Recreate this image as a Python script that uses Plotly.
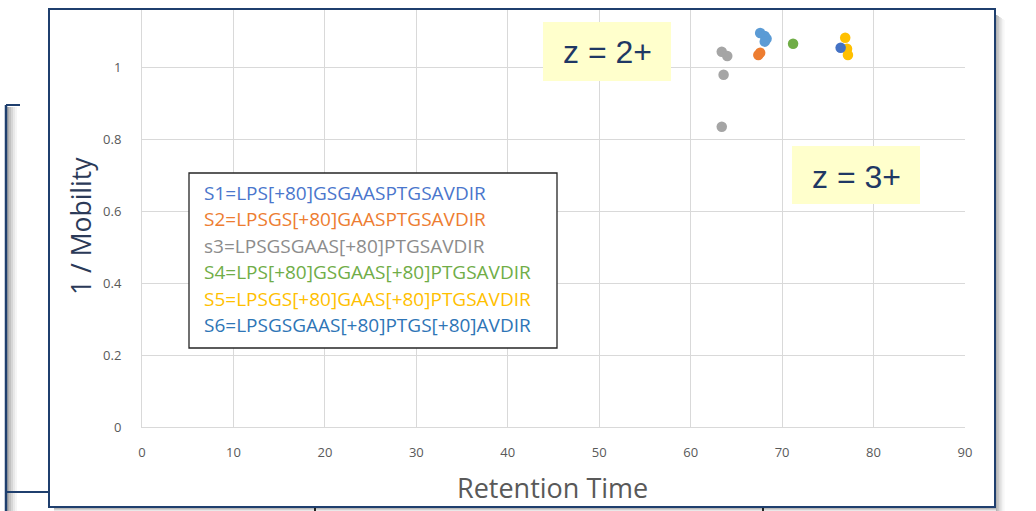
import plotly.graph_objects as go

# Retention time vs. inverse mobility for six phospho-peptide isoforms
series_names = ["S1", "S2", "s3", "S4", "S5", "S6"]
legend_labels = [
    "S1=LPS[+80]GSGAASPTGSAVDIR",
    "S2=LPSGS[+80]GAASPTGSAVDIR",
    "s3=LPSGSGAAS[+80]PTGSAVDIR",
    "S4=LPS[+80]GSGAAS[+80]PTGSAVDIR",
    "S5=LPSGS[+80]GAAS[+80]PTGSAVDIR",
    "S6=LPSGSGAAS[+80]PTGS[+80]AVDIR",
]
s1_rt = [67.6, 68.1, 68.3, 68.1]
s1_mob = [1.096, 1.088, 1.080, 1.072]
s2_rt = [67.6, 67.4]
s2_mob = [1.041, 1.035]
s3_rt = [63.4, 64.0, 63.6, 63.4]
s3_mob = [1.044, 1.032, 0.980, 0.835]
s4_rt = [71.2]
s4_mob = [1.066]
s5_rt = [76.9, 77.1, 77.2]
s5_mob = [1.083, 1.052, 1.035]
s6_rt = [76.4]
s6_mob = [1.055]

x_ticks = [0, 10, 20, 30, 40, 50, 60, 70, 80, 90]
y_ticks = [0, 0.2, 0.4, 0.6, 0.8, 1]
charge_labels = ["z = 2+", "z = 3+"]

marker_colors = ["#5B9BD5", "#ED7D31", "#A5A5A5", "#70AD47", "#FFC000", "#4472C4"]
text_colors = ["#4A76CC", "#ED7D31", "#8C8C8C", "#70AD47", "#FFC000", "#2E75B6"]

xs = [s1_rt, s2_rt, s3_rt, s4_rt, s5_rt, s6_rt]
ys = [s1_mob, s2_mob, s3_mob, s4_mob, s5_mob, s6_mob]

W, H = 1036, 511
ML, MR, MT, MB = 142, 71, 10, 84
PW, PH = W - ML - MR, H - MT - MB


def px(x):
    return (x - ML) / PW


def py(y):
    return (H - MB - y) / PH


fig = go.Figure()
for name, x, y, c in zip(series_names, xs, ys, marker_colors):
    fig.add_trace(go.Scatter(x=x, y=y, mode="markers", name=name,
                             marker=dict(color=c, size=10.5, line=dict(width=0))))

shapes = []
NAVY = "#1F3F6E"

# frame of the panel behind, on the left
for i, op in enumerate([0.32, 0.24, 0.16, 0.09, 0.04]):
    shapes.append(dict(type="rect", xref="paper", yref="paper", layer="below",
                       x0=px(7 + i * 2), x1=px(9 + i * 2), y0=py(511), y1=py(107),
                       fillcolor=f"rgba(0,0,0,{op})", line=dict(width=0)))
shapes.append(dict(type="line", xref="paper", yref="paper", x0=px(6), x1=px(6),
                   y0=py(511), y1=py(105), line=dict(color=NAVY, width=2.5)))
shapes.append(dict(type="line", xref="paper", yref="paper", x0=px(6), x1=px(20),
                   y0=py(105), y1=py(105), line=dict(color=NAVY, width=2)))
shapes.append(dict(type="line", xref="paper", yref="paper", x0=px(6), x1=px(49),
                   y0=py(492), y1=py(492), line=dict(color=NAVY, width=2)))

# drop shadow of the main panel
for i, op in enumerate([0.30, 0.22, 0.15, 0.09, 0.05, 0.02]):
    shapes.append(dict(type="rect", xref="paper", yref="paper", layer="below",
                       x0=px(996 + i * 1.5), x1=px(997.5 + i * 1.5), y0=py(511), y1=py(15 + i),
                       fillcolor=f"rgba(0,0,0,{op})", line=dict(width=0)))
for i, op in enumerate([0.28, 0.18, 0.09]):
    shapes.append(dict(type="rect", xref="paper", yref="paper", layer="below",
                       x0=px(54), x1=px(996), y0=py(508 + i + 1), y1=py(508 + i),
                       fillcolor=f"rgba(0,0,0,{op})", line=dict(width=0)))
for xv in (315, 763):
    shapes.append(dict(type="line", xref="paper", yref="paper", x0=px(xv), x1=px(xv),
                       y0=py(511), y1=py(508), line=dict(color="#222222", width=2)))

# main panel border
shapes.append(dict(type="rect", xref="paper", yref="paper", x0=px(49), x1=px(995),
                   y0=py(507), y1=py(9), line=dict(color=NAVY, width=2)))

# legend box
shapes.append(dict(type="rect", xref="paper", yref="paper", x0=px(189), x1=px(557),
                   y0=py(348), y1=py(173), fillcolor="white",
                   line=dict(color="#262626", width=1.3)))

# charge-state callouts
shapes.append(dict(type="rect", xref="paper", yref="paper", x0=px(543), x1=px(671),
                   y0=py(81), y1=py(22), fillcolor="#FFFFCC", line=dict(width=0)))
shapes.append(dict(type="rect", xref="paper", yref="paper", x0=px(792), x1=px(920),
                   y0=py(204), y1=py(146), fillcolor="#FFFFCC", line=dict(width=0)))

annotations = []
for i, (lbl, c) in enumerate(zip(legend_labels, text_colors)):
    annotations.append(dict(xref="paper", yref="paper", x=px(202), y=py(193 + i * 26.4),
                            xanchor="left", yanchor="middle", showarrow=False,
                            text=lbl, font=dict(family="Open Sans", size=19, color=c)))

annotations.append(dict(xref="paper", yref="paper", x=px(607), y=py(52), showarrow=False,
                        xanchor="center", yanchor="middle", text=charge_labels[0],
                        font=dict(family="Liberation Sans", size=32, color="#1F3864")))
annotations.append(dict(xref="paper", yref="paper", x=px(856), y=py(177), showarrow=False,
                        xanchor="center", yanchor="middle", text=charge_labels[1],
                        font=dict(family="Liberation Sans", size=32, color="#1F3864")))

# axis titles
annotations.append(dict(xref="paper", yref="paper", x=px(81), y=py(226), showarrow=False,
                        xanchor="center", yanchor="middle", textangle=-90, text="1 / Mobility",
                        font=dict(family="Open Sans", size=26.5, color="#2B3A58")))
annotations.append(dict(xref="paper", yref="paper", x=px(552), y=py(487), showarrow=False,
                        xanchor="center", yanchor="middle", text="Retention Time",
                        font=dict(family="Open Sans", size=27, color="#595959")))

fig.update_layout(
    width=W, height=H,
    margin=dict(l=ML, r=MR, t=MT, b=MB),
    paper_bgcolor="white", plot_bgcolor="white",
    showlegend=False,
    shapes=shapes, annotations=annotations,
    font=dict(family="Open Sans", color="#595959", size=13),
)
fig.update_xaxes(range=[0, 90], tickvals=x_ticks, showgrid=True, gridcolor="#D9D9D9",
                 gridwidth=1, showline=True, linecolor="#D9D9D9", zeroline=False,
                 ticks="", ticklabelstandoff=13, tickfont=dict(size=13, color="#595959"))
fig.update_yaxes(range=[0, 1.16], tickvals=y_ticks, showgrid=True, gridcolor="#D9D9D9",
                 gridwidth=1, showline=True, linecolor="#D9D9D9", zeroline=False,
                 ticks="", ticklabelstandoff=17, tickfont=dict(size=13, color="#595959"))

fig.write_html("out.html")
